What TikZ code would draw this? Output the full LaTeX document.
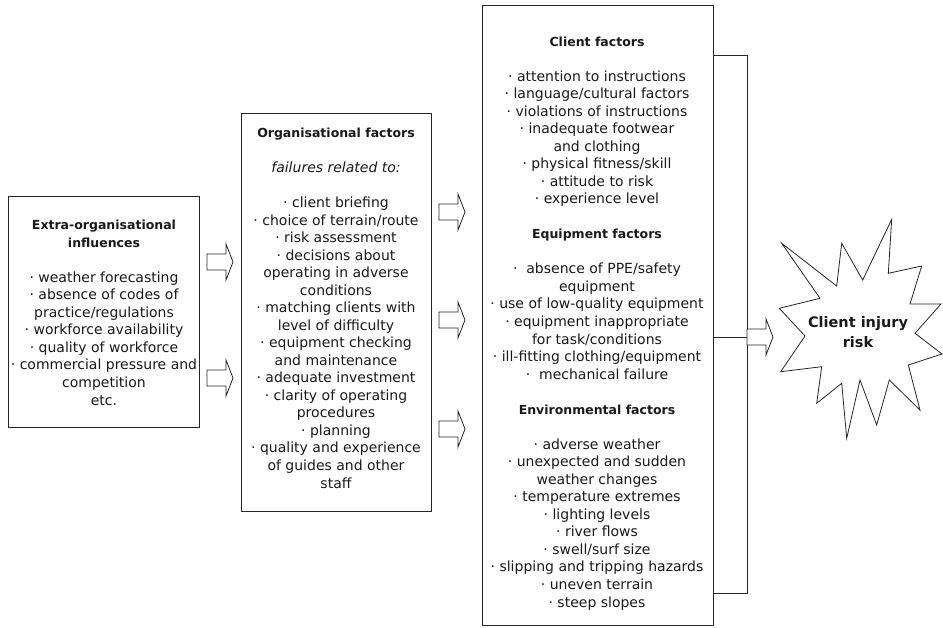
\documentclass[tikz,border=0pt]{standalone}
\usepackage{fontspec}
\setmainfont{DejaVu Sans}
\begin{document}
\begin{tikzpicture}[x=1pt,y=-1pt,
  box/.style={draw=black!85, line width=1pt, inner sep=0pt, anchor=north west},
  body/.style={align=center, inner sep=0pt, anchor=base, text=black!90,
    font=\fontsize{14}{17.53}\selectfont},
  link/.style={draw=black!85, line width=1pt},
  blockarrow/.style={draw=black!85, line width=0.8pt, fill=white, line join=miter},
  burst/.style={draw=black!85, line width=0.8pt, line join=miter, fill=white},
  blockarr/.pic={\draw[blockarrow] (0,-8) -- (19,-8) -- (19,-18) -- (26,0)
     -- (19,18) -- (19,8) -- (0,8) -- cycle;}]
\newcommand\hd[1]{{\fontsize{12.5}{17.53}\selectfont\bfseries #1}}
\useasboundingbox (0,0) rectangle (943,627);

% the three boxes
\node[box, minimum width=191pt, minimum height=231pt] (extbox) at (8,196) {};
\node[box, minimum width=190pt, minimum height=398pt] (orgbox) at (241,113) {};
\node[box, minimum width=231pt, minimum height=620pt] (bigbox) at (482,5) {};

% box contents (each placed by the baseline of its last line)
\node[body] (exttext) at (104,405) {\hd{Extra-organisational}\\ \hd{influences}\\[17.53pt]
  · weather forecasting\\ · absence of codes of\\ practice/regulations\\
  · workforce availability\\ · quality of workforce\\ · commercial pressure and\\
  competition\\ etc.};

\node[body] (orgtext) at (336,488) {\hd{Organisational factors}\\[17.53pt]
  \textit{failures related to:}\\[17.53pt]
  · client briefing\\ · choice of terrain/route\\ · risk assessment\\
  · decisions about\\ operating in adverse\\ conditions\\
  · matching clients with\\ level of difficulty\\ · equipment checking\\
  and maintenance\\ · adequate investment\\ · clarity of operating\\
  procedures\\ · planning\\ · quality and experience\\ of guides and other\\ staff};

\node[body] (bigtext) at (597,607) {\hd{Client factors}\\[17.53pt]
  · attention to instructions\\ · language/cultural factors\\
  · violations of instructions\\ · inadequate footwear\\ and clothing\\
  · physical fitness/skill\\ · attitude to risk\\ · experience level\\[17.53pt]
  \hd{Equipment factors}\\[17.53pt]
  · \ absence of PPE/safety\\ equipment\\ · use of low-quality equipment\\
  · equipment inappropriate\\ for task/conditions\\
  · ill-fitting clothing/equipment\\ · \ mechanical failure\\[17.53pt]
  \hd{Environmental factors}\\[17.53pt]
  · adverse weather\\ · unexpected and sudden\\ weather changes\\
  · temperature extremes\\ · lighting levels\\ · river flows\\
  · swell/surf size\\ · slipping and tripping hazards\\ · uneven terrain\\
  · steep slopes};

% block arrows between the boxes
\pic at (207,262) {blockarr};
\pic at (207,378) {blockarr};
\pic at (439,212) {blockarr};
\pic at (439,320) {blockarr};
\pic at (439,429) {blockarr};

% bracket gathering the factors
\coordinate (brTop) at (747,55);
\coordinate (brMid) at (747,337);
\coordinate (brBot) at (747,593);
\draw[link] (bigbox.east |- brTop) -- (brTop) -- (brBot) -- (bigbox.east |- brBot);
\draw[link] (bigbox.east |- brMid) -- (brMid);
\pic at (brMid) {blockarr};

% outcome burst
\draw[burst] (891.7,219.3) -- (862.7,280) -- (841.7,243.3) -- (836.7,286)
  -- (781.7,243.3) -- (820,298.3) -- (779.3,308.3) -- (805,336)
  -- (780.7,371.7) -- (821.7,366.7) -- (816.7,403.3) -- (841.7,383.3)
  -- (846.7,438.3) -- (860,380) -- (876.7,425) -- (889.3,380)
  -- (920,410) -- (908.3,365) -- (942,354) -- (915,333.3)
  -- (941,304) -- (910,304) -- (921.7,266) -- (888.3,273.3) -- cycle;
\node[align=center, inner sep=0pt, anchor=base, text=black!90,
  font=\fontsize{14.5}{19.5}\selectfont\bfseries] (risk) at (858,347) {Client injury\\risk};
\end{tikzpicture}
\end{document}
